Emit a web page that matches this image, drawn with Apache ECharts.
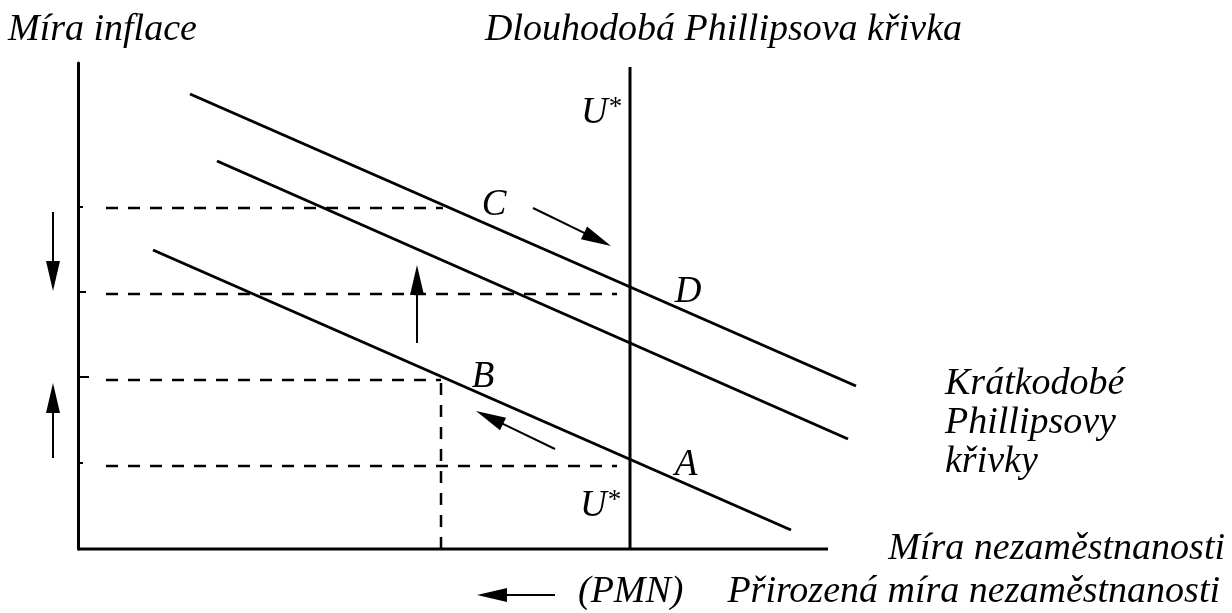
<!DOCTYPE html>
<html>
<head>
<meta charset="utf-8">
<script src="https://cdn.jsdelivr.net/npm/echarts@6/dist/echarts.min.js"></script>
<style>
html, body { margin: 0; padding: 0; background: #fff; }
#chart { width: 1232px; height: 613px; }
</style>
</head>
<body>
<div id="chart"></div>
<script>
// units: x = nezaměstnanost, y = inflace, origin in the axis corner
const srpcCurves = [            // [x0, y0, x1, y1]
    [112, 455, 778, 163],
    [139, 388, 770, 110],
    [75, 299, 713, 19]
];
const xAxisEnd = 750;
const naturalRateX = 552;
const lrpcTop = 482;
const guideRows = [             // [x0, y, x1]
    [28, 341, 365],
    [28, 255, 539],
    [28, 169, 363],
    [28, 83, 539]
];
const guideCols = [[363, 0, 169]];   // [x, y0, y1]
const axisTicks = [             // [x0, x1, y]
    [-19, 5, 342],
    [-10, 8, 257],
    [-10, 11, 172],
    [-10, 5, 86]
];
const arrows = [                // [x0, y0, x1, y1], head at the end
    [-25, 337, -25, 258],
    [-25, 91, -25, 166],
    [339, 206, 339, 284],
    [455, 341, 533, 303],
    [477, 100, 398, 138],
    [477, -46, 399, -46]
];
const pointLabels = [           // [x, y, text]
    [416, 344, 'C'],
    [610, 257, 'D'],
    [405, 172, 'B'],
    [608, 84, 'A'],
    [523, 436, 'U*'],
    [522, 43, 'U*']
];

const FONT = 'Liberation Serif';
const black = '#000';

const chart = echarts.init(document.getElementById('chart'));

const solid = (data, width) => ({
    type: 'line',
    data: data,
    symbol: 'none',
    clip: false,
    silent: true,
    animation: false,
    lineStyle: { color: black, width: width }
});
const dashed = (data) => ({
    type: 'line',
    data: data,
    symbol: 'none',
    clip: false,
    silent: true,
    animation: false,
    lineStyle: { color: black, width: 2.5, type: [12, 10] }
});

const series = [];
series.push(solid([[0, 0], [xAxisEnd, 0]], 3));
srpcCurves.forEach(c => series.push(solid([[c[0], c[1]], [c[2], c[3]]], 3)));
series.push(solid([[naturalRateX, 0], [naturalRateX, lrpcTop]], 3));
guideRows.forEach(r => series.push(dashed([[r[0], r[1]], [r[2], r[1]]])));
guideCols.forEach(c => series.push(dashed([[c[0], c[1]], [c[0], c[2]]])));
axisTicks.forEach(t => series.push(solid([[t[0], t[2]], [t[1], t[2]]], 2)));

series.push({
    type: 'custom',
    data: arrows,
    encode: { x: [0, 2], y: [1, 3] },
    silent: true,
    animation: false,
    renderItem: (params, api) => {
        const a = api.coord([api.value(0), api.value(1)]);
        const b = api.coord([api.value(2), api.value(3)]);
        const dx = b[0] - a[0], dy = b[1] - a[1];
        const len = Math.hypot(dx, dy);
        const ux = dx / len, uy = dy / len;
        const hl = 30, hw = 7;
        const bx = b[0] - ux * hl, by = b[1] - uy * hl;
        return {
            type: 'group',
            children: [
                {
                    type: 'line',
                    shape: { x1: a[0], y1: a[1], x2: bx + ux * 3, y2: by + uy * 3 },
                    style: { stroke: black, lineWidth: 2 }
                },
                {
                    type: 'polygon',
                    shape: { points: [[b[0], b[1]], [bx - uy * hw, by + ux * hw], [bx + uy * hw, by - ux * hw]] },
                    style: { fill: black }
                }
            ]
        };
    }
});

// point letters A-D and U*
series.push({
    type: 'custom',
    data: pointLabels,
    encode: { x: 0, y: 1 },
    silent: true,
    animation: false,
    renderItem: (params, api) => {
        const p = api.coord([api.value(0), api.value(1)]);
        const name = pointLabels[params.dataIndex][2];
        return {
            type: 'text',
            x: p[0],
            y: p[1],
            style: {
                text: name === 'U*' ? '{u|U}{s|*}' : '{u|' + name + '}',
                align: 'center',
                verticalAlign: 'middle',
                fill: black,
                rich: {
                    u: { fontFamily: FONT, fontStyle: 'italic', fontSize: 37, fill: black, lineHeight: 38 },
                    s: { fontFamily: FONT, fontStyle: 'italic', fontSize: 27, fill: black, verticalAlign: 'top' }
                }
            }
        };
    }
});

const txt = (text, pos) => Object.assign({
    type: 'text',
    silent: true,
    style: {
        text: text,
        fontFamily: FONT,
        fontStyle: 'italic',
        fontSize: 38,
        lineHeight: 39,
        fill: black
    }
}, pos);

chart.setOption({
    animation: false,
    backgroundColor: '#fff',
    textStyle: { fontFamily: FONT },
    grid: { left: 78, top: 63, right: 354, bottom: 64 },
    xAxis: {
        type: 'value', min: 0, max: 800,
        axisLine: { show: false },
        axisTick: { show: false }, axisLabel: { show: false }, splitLine: { show: false }
    },
    yAxis: {
        type: 'value', min: 0, max: 486,
        axisLine: { show: true, lineStyle: { color: black, width: 3 } },
        axisTick: { show: false }, axisLabel: { show: false }, splitLine: { show: false }
    },
    graphic: [
        txt('Míra inflace', { left: 8, top: 11 }),
        txt('Dlouhodobá Phillipsova křivka', { left: 485, top: 11 }),
        txt('Krátkodobé\nPhillipsovy\nkřivky', { left: 945, top: 365 }),
        txt('Míra nezaměstnanosti', { right: 7, top: 530 }),
        txt('(PMN)', { left: 578, top: 573 }),
        txt('Přirozená míra nezaměstnanosti', { right: 12, top: 573 })
    ],
    series: series
});
</script>
</body>
</html>
